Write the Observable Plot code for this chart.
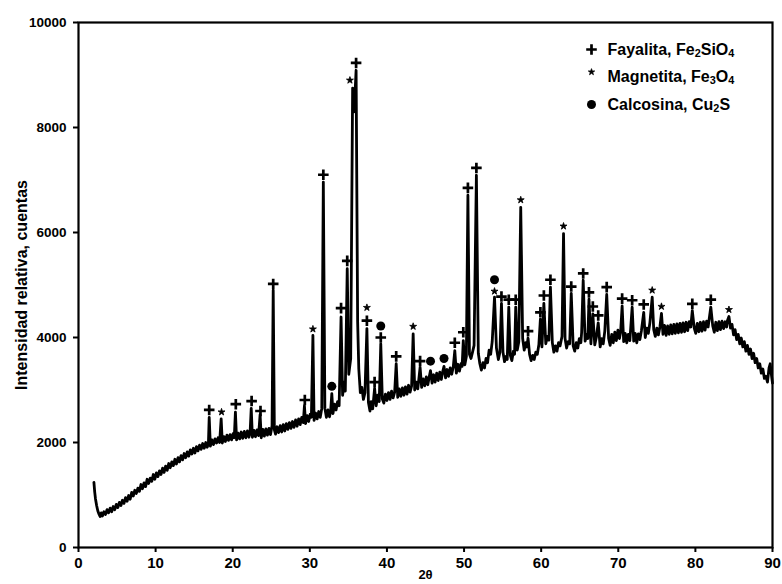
<!DOCTYPE html>
<html>
<head>
<meta charset="utf-8">
<script src="https://cdn.jsdelivr.net/npm/d3@7"></script>
<script src="https://cdn.jsdelivr.net/npm/@observablehq/plot@0.6"></script>
<style>
  body { margin: 0; background: #fff; }
  #chart svg { display: block; }
</style>
</head>
<body>
<div id="chart"></div>
<script>
// Diffractogram of the slag sample: [2θ (degrees), counts]
const patternLow = [
  [2.0,1240],[2.1,1060],[2.2,930],[2.35,800],[2.5,700],[2.65,640],[2.8,590],[2.95,660],[3.1,600],[3.3,680],
  [3.5,630],[3.7,720],[3.9,660],[4.1,750],[4.3,680],[4.5,780],[4.7,720],[4.9,820],[5.1,760],[5.3,860],
  [5.5,800],[5.7,900],[5.9,840],[6.1,950],[6.3,880],[6.5,990],[6.7,920],[6.9,1050],[7.1,980],[7.3,1090],
  [7.5,1030],[7.7,1130],[7.9,1070],[8.1,1200],[8.3,1120],[8.5,1230],[8.7,1160],[8.9,1300],[9.1,1220],[9.3,1320],
  [9.5,1260],[9.7,1390],[9.9,1300],[10.1,1420],[10.3,1350],[10.5,1460],[10.7,1390],[10.9,1510],[11.1,1430],[11.3,1550],
  [11.5,1470],[11.7,1600],[11.9,1520],[12.1,1630],[12.3,1560],[12.5,1680],[12.7,1590],[12.9,1710],[13.1,1630],[13.3,1750],
  [13.5,1670],[13.7,1790],[13.9,1710],[14.1,1820],[14.3,1740],[14.5,1860],[14.7,1780],[14.9,1890],[15.1,1800],[15.3,1920],
  [15.5,1840],[15.7,1950],[15.9,1870],[16.1,1980],[16.3,1890],[16.5,2000],[16.7,1910],[16.85,1990],[16.95,2480],[17.1,1930],
  [17.3,2050],[17.5,1960],[17.7,2070],[17.9,1990],[18.1,2090],[18.3,2000],[18.5,2450],[18.65,1990],[18.85,2110],[19.05,2020],
  [19.25,2140],[19.45,2040],[19.65,2150],[19.85,2050],[20.05,2170],[20.2,2090],[20.35,2580],[20.5,2050],[20.7,2180],[20.9,2070],
  [21.1,2200],[21.3,2080],[21.5,2210],[21.7,2090],[21.9,2220],[22.1,2100],[22.25,2180],[22.4,2650],[22.55,2100],[22.75,2230],
  [22.95,2110],[23.15,2240],[23.35,2130],[23.55,2530],[23.7,2090],[23.9,2250],[24.1,2120],[24.3,2260],[24.5,2140],[24.7,2270],
  [24.9,2150]
];
const patternMid = [
  [25.1,2320],[25.25,4900],[25.4,2240],[25.55,2160],[25.75,2300],[25.95,2190],[26.15,2320],[26.35,2200],[26.55,2340],[26.75,2220],
  [26.95,2360],[27.15,2250],[27.35,2380],[27.55,2270],[27.75,2400],[27.95,2290],[28.15,2430],[28.35,2310],[28.55,2450],[28.75,2340],
  [28.95,2480],[29.15,2380],[29.3,2700],[29.45,2360],[29.65,2510],[29.85,2400],[30.05,2540],[30.2,2480],[30.4,4040],[30.55,2420],
  [30.75,2560],[30.95,2450],[31.15,2590],[31.35,2480],[31.55,2650],[31.75,6960],[31.95,2650],[32.15,2480],[32.35,2620],[32.55,2490],
  [32.7,2600],[32.85,2930],[33.0,2550],[33.2,2730],[33.4,2620],[33.6,2780],[33.8,2700],[34.05,4390],[34.25,2900],[34.45,3150],
  [34.6,2980],[34.85,5310],[35.05,3300],[35.3,3600],[35.55,8750],[35.75,8300],[36.0,9090],[36.2,4300],[36.35,3400],[36.55,2950],
  [36.75,3050],[36.95,2820],[37.15,2950],[37.4,4170],[37.6,2760],[37.8,2600],[37.95,2780],[38.15,2640],[38.4,3030],[38.6,2700],
  [38.8,2900],[39.0,2780],[39.2,3880],[39.4,2830],[39.6,2750],[39.8,2920],[40.0,2800],[40.2,2950],[40.4,2820],[40.6,2980],
  [40.8,2850],[41.0,2960],[41.2,3500],[41.4,2860],[41.6,3020],[41.8,2880],[42.0,3040],[42.2,2900],[42.4,3060],[42.6,2920],
  [42.8,3090],[43.0,2960],[43.2,3080],[43.4,4070],[43.6,3000],[43.8,3150],[44.0,3020],[44.3,3430],[44.5,3050],[44.7,3210],
  [44.9,3080],[45.1,3250],[45.3,3100],[45.5,3260],[45.65,3370],[45.85,3130],[46.05,3290],[46.25,3150],[46.45,3320],[46.65,3180],
  [46.85,3340],[47.05,3200],[47.2,3330],[47.4,3450],[47.6,3230],[47.8,3390],[48.0,3260],[48.2,3420],[48.4,3300],[48.6,3440],
  [48.8,3750],[49.0,3320],[49.2,3490],[49.4,3360],[49.6,3500],[49.75,3450],[49.9,3940],[50.1,3480],[50.3,3640],[50.5,6710],
  [50.7,3680],[50.9,3600],[51.1,3720],[51.3,3850],[51.6,7090],[51.85,3700]
];
const patternHigh = [
  [52.05,3500],[52.25,3380],[52.45,3520],[52.65,3420],[52.85,3600],[53.05,3520],[53.25,3760],[53.45,3680],[53.65,3920],[53.95,4770],
  [54.2,3800],[54.45,3580],[54.65,3720],[54.85,4650],[55.05,3720],[55.25,3540],[55.45,3640],[55.6,3580],[55.8,4580],[56.0,3660],
  [56.2,3560],[56.4,3740],[56.55,3680],[56.7,4580],[56.9,3760],[57.1,3920],[57.35,6480],[57.6,3980],[57.8,3760],[58.0,3900],
  [58.15,3820],[58.3,3990],[58.5,3680],[58.7,3560],[58.9,3660],[59.1,3580],[59.3,3720],[59.5,3680],[59.7,3860],[59.9,4350],
  [60.1,3820],[60.35,4650],[60.6,3880],[60.8,4020],[61.0,3950],[61.2,4960],[61.45,3900],[61.65,3720],[61.85,3840],[62.05,3740],
  [62.25,3900],[62.45,3840],[62.7,4020],[62.9,5980],[63.1,3980],[63.3,3800],[63.5,3920],[63.7,3880],[63.9,4840],[64.15,3840],
  [64.35,3740],[64.55,3900],[64.75,3800],[64.95,3980],[65.15,3900],[65.25,4100],[65.45,5090],[65.7,3930],[65.9,4060],[66.05,3980],
  [66.2,4730],[66.45,3880],[66.7,4450],[66.95,3860],[67.15,4000],[67.4,4280],[67.65,3820],[67.85,3980],[68.05,3880],[68.25,4120],
  [68.5,4820],[68.75,3980],[68.95,3850],[69.15,4060],[69.35,3900],[69.55,4100],[69.75,3940],[69.95,4140],[70.15,3980],[70.3,4100],
  [70.5,4600],[70.7,3920],[70.9,4080],[71.1,3900],[71.3,4060],[71.5,3940],[71.8,4580],[72.0,3930],[72.2,4080],[72.4,3900],
  [72.6,4070],[72.8,3960],[73.0,4130],[73.3,4480],[73.5,4000],[73.7,4180],[73.9,4080],[74.1,4280],[74.4,4770],[74.6,4150],
  [74.8,4020],[75.0,4180],[75.2,4050],[75.4,4200],[75.6,4460],[75.8,4060],[76.0,4230],[76.2,4040],[76.4,4220],[76.6,4060],
  [76.8,4240],[77.0,4070],[77.2,4250],[77.4,4080],[77.6,4260],[77.8,4090],[78.0,4270],[78.2,4100],[78.4,4280],[78.6,4110],
  [78.8,4290],[79.0,4130],[79.2,4300],[79.4,4200],[79.6,4510],[79.85,4180],[80.05,4080],[80.25,4270],[80.45,4110],[80.65,4290],
  [80.85,4120],[81.05,4300],[81.25,4140],[81.45,4310],[81.65,4200],[82.0,4580],[82.25,4220],[82.45,4100],[82.65,4290],[82.85,4130],
  [83.05,4300],[83.25,4150],[83.45,4310],[83.65,4170],[83.85,4300],[84.05,4200],[84.15,4320],[84.35,4400],[84.55,4180],[84.75,4250],
  [84.95,4050],[85.15,4150],[85.35,3960],[85.55,4060],[85.75,3880],[85.95,3990],[86.15,3820],[86.35,3920],[86.55,3740],[86.75,3850],
  [86.95,3680],[87.15,3780],[87.35,3600],[87.55,3700],[87.75,3520],[87.95,3600],[88.15,3420],[88.35,3500],[88.55,3320],[88.75,3400],
  [88.95,3220],[89.15,3260],[89.35,3150],[89.55,3420],[89.7,3500],[89.85,3300],[90.0,3130]
];

// Phase identification marks: [2θ, counts at which the symbol sits]
const fayalita = [
  [16.95,2620],[20.4,2730],[22.45,2790],[23.6,2600],[25.25,5020],[29.35,2810],[31.75,7100],[34.05,4560],
  [34.85,5460],[36.0,9230],[37.4,4320],[38.4,3150],[39.2,4000],[41.2,3640],[44.3,3550],[48.8,3900],
  [49.9,4100],[50.5,6850],[51.6,7230],[54.85,4780],[55.8,4720],[56.7,4720],[58.3,4120],[59.9,4480],
  [60.35,4800],[61.2,5100],[63.9,4970],[65.45,5220],[66.2,4860],[66.7,4590],[67.4,4420],[68.5,4960],
  [70.5,4740],[71.8,4710],[73.3,4630],[79.6,4640],[82.0,4720]
];
const magnetita = [
  [18.55,2580],[30.4,4160],[35.2,8900],[37.4,4570],[43.4,4210],[53.95,4880],[57.35,6620],
  [62.9,6120],[74.4,4900],[75.6,4590],[84.35,4530]
];
const calcosina = [
  [32.85,3070],[39.2,4220],[45.65,3550],[47.4,3600],[53.95,5100]
];

const legendItems = [
  {label: "Fayalita, Fe\u2082SiO\u2084", symbol: "plus"},
  {label: "Magnetita, Fe\u2083O\u2084", symbol: "star"},
  {label: "Calcosina, Cu\u2082S", symbol: "circle"}
];

const xTicks = [0, 10, 20, 30, 40, 50, 60, 70, 80, 90];
const yTicks = [0, 2000, 4000, 6000, 8000, 10000];
const xLabel = "2\u03b8";
const yLabel = "Intensidad relativa, cuentas";

const pattern = [...patternLow, ...patternMid, ...patternHigh];
const font = "'Liberation Sans', Arial, sans-serif";

// symbol styling shared by chart marks and legend
const symbolStyle = {
  plus: {symbol: "plus", r: 3.5, stroke: "black", strokeWidth: 2.7, fill: "none"},
  star: {symbol: "star", r: 2.2, fill: "black", stroke: "black", strokeWidth: 0.8},
  circle: {symbol: "circle", r: 4.5, fill: "black", stroke: "none"}
};

const legendMarks = legendItems.flatMap((item, i) => [
  Plot.dot([item], {frameAnchor: "top-left", dx: 513, dy: 27 + 27.5 * i - (item.symbol === "star" ? 5 : 0),
    ...symbolStyle[item.symbol], r: item.symbol === "star" ? 2 : symbolStyle[item.symbol].r}),
  Plot.text([item], {frameAnchor: "top-left", dx: 529, dy: 27 + 27.5 * i, text: d => d.label,
    textAnchor: "start", lineAnchor: "middle", fontSize: 16, fontWeight: "bold", fill: "black",
    className: "phase-label"})
]);

const chart = Plot.plot({
  width: 782,
  height: 584,
  marginLeft: 78,
  marginRight: 10,
  marginTop: 22,
  marginBottom: 37,
  style: {fontFamily: font, color: "black", background: "white"},
  x: {domain: [0, 90]},
  y: {domain: [0, 10000]},
  marks: [
    Plot.axisX({ticks: xTicks, tickSize: 5, tickPadding: 5, tickFormat: "d", fontSize: 15, fontWeight: "bold",
      strokeWidth: 2, label: null}),
    Plot.axisY({ticks: yTicks, tickSize: 5, tickPadding: 7, tickFormat: "d", fontSize: 13.5, fontWeight: "bold",
      strokeWidth: 2, label: null}),
    Plot.line(pattern, {x: d => d[0], y: d => d[1], stroke: "black", strokeWidth: 2.8}),
    Plot.dot(fayalita, {x: d => d[0], y: d => d[1], ...symbolStyle.plus}),
    Plot.dot(magnetita, {x: d => d[0], y: d => d[1], ...symbolStyle.star}),
    Plot.dot(calcosina, {x: d => d[0], y: d => d[1], ...symbolStyle.circle}),
    Plot.frame({stroke: "black", strokeWidth: 2.2}),
    Plot.text([xLabel], {frameAnchor: "bottom", dy: 31, text: d => d, fontSize: 13, fontWeight: "bold", fill: "black"}),
    Plot.text([yLabel], {frameAnchor: "left", dx: -57, rotate: -90, textAnchor: "middle", text: d => d,
      fontSize: 16, fontWeight: "bold", fill: "black"}),
    ...legendMarks
  ]
});

// Typeset the chemical formulas: subscript digits become lowered, smaller tspans
const subDigits = "\u2080\u2081\u2082\u2083\u2084\u2085\u2086\u2087\u2088\u2089";
d3.select(chart).selectAll(".phase-label text").each(function () {
  const label = this.textContent;
  const node = d3.select(this);
  node.text(null);
  const runs = label.match(new RegExp(`[${subDigits}]+|[^${subDigits}]+`, "g"));
  for (const run of runs) {
    if (subDigits.includes(run[0])) {
      node.append("tspan")
        .attr("font-size", "68%")
        .attr("baseline-shift", "-22%")
        .text([...run].map(c => subDigits.indexOf(c)).join(""));
    } else {
      node.append("tspan").text(run);
    }
  }
});

document.getElementById("chart").appendChild(chart);
</script>
</body>
</html>
